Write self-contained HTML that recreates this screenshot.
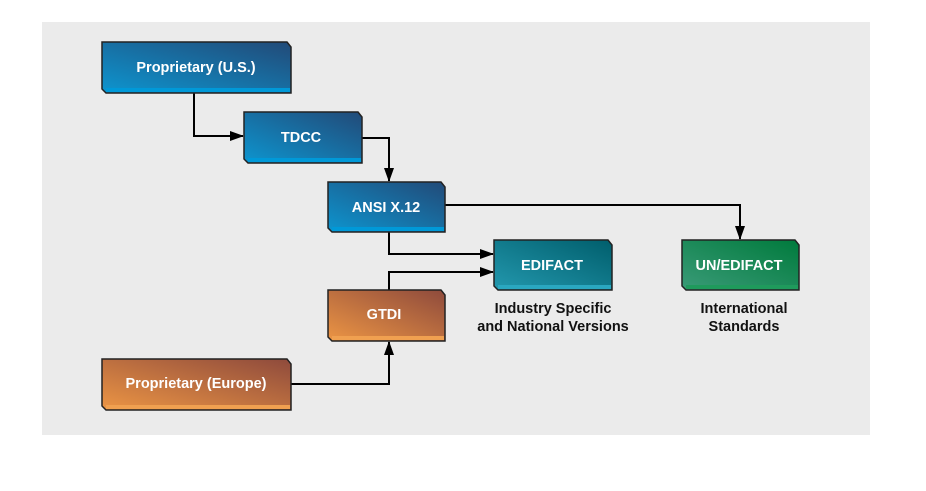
<!DOCTYPE html>
<html><head><style>
body{margin:0;background:#fff;width:926px;height:486px;overflow:hidden}
text{font-family:"Liberation Sans",sans-serif;font-weight:bold;font-size:14.5px}
</style></head><body>
<svg width="926" height="486" viewBox="0 0 926 486" xmlns="http://www.w3.org/2000/svg">
<defs>
<linearGradient id="b" x1="0" y1="1" x2="1" y2="0"><stop offset="0" stop-color="#0d95cf"/><stop offset="1" stop-color="#224a78"/></linearGradient>
<linearGradient id="o" x1="0" y1="1" x2="1" y2="0"><stop offset="0" stop-color="#ec9544"/><stop offset="1" stop-color="#8e4a3c"/></linearGradient>
<linearGradient id="t" x1="0" y1="1" x2="1" y2="0"><stop offset="0" stop-color="#2398ae"/><stop offset="1" stop-color="#005e6c"/></linearGradient>
<linearGradient id="g" x1="0" y1="1" x2="1" y2="0"><stop offset="0" stop-color="#3a9b78"/><stop offset="1" stop-color="#007a3c"/></linearGradient>
<marker id="a" markerWidth="14" markerHeight="10" refX="13" refY="5" orient="auto" markerUnits="userSpaceOnUse"><path d="M0,0 L14,5 L0,10 z" fill="#000"/></marker>
</defs>
<rect x="42" y="22" width="828" height="413" fill="#ebebeb"/>
<g stroke="#000" stroke-width="2" fill="none">
<polyline points="194,93 194,136 243,136" marker-end="url(#a)"/>
<polyline points="362,138 389,138 389,181" marker-end="url(#a)"/>
<polyline points="445,205 740,205 740,239" marker-end="url(#a)"/>
<polyline points="389,232 389,254 493,254" marker-end="url(#a)"/>
<polyline points="389,290 389,272 493,272" marker-end="url(#a)"/>
<polyline points="291,384 389,384 389,342" marker-end="url(#a)"/>
</g>
<g stroke="#222" stroke-width="1.5">
<path d="M102,42 H287 L291,47 V93 H106 L102,89 Z" fill="url(#b)"/><rect x="106" y="88" width="184" height="4" fill="#0099d8" stroke="none"/>
<path d="M244,112 H358 L362,117 V163 H248 L244,159 Z" fill="url(#b)"/><rect x="248" y="158" width="113" height="4" fill="#0099d8" stroke="none"/>
<path d="M328,182 H441 L445,187 V232 H332 L328,228 Z" fill="url(#b)"/><rect x="332" y="227" width="112" height="4" fill="#0099d8" stroke="none"/>
<path d="M494,240 H608 L612,245 V290 H498 L494,286 Z" fill="url(#t)"/><rect x="498" y="285" width="113" height="4" fill="#2aa7c0" stroke="none"/>
<path d="M682,240 H795 L799,245 V290 H686 L682,286 Z" fill="url(#g)"/><rect x="686" y="285" width="112" height="4" fill="#1f9a5c" stroke="none"/>
<path d="M328,290 H441 L445,295 V341 H332 L328,337 Z" fill="url(#o)"/><rect x="332" y="336" width="112" height="4" fill="#f0a050" stroke="none"/>
<path d="M102,359 H287 L291,364 V410 H106 L102,406 Z" fill="url(#o)"/><rect x="106" y="405" width="184" height="4" fill="#f0a050" stroke="none"/>
</g>
<g fill="#fff" text-anchor="middle">
<text x="196" y="72">Proprietary (U.S.)</text>
<text x="301" y="142">TDCC</text>
<text x="386" y="212">ANSI X.12</text>
<text x="552" y="270">EDIFACT</text>
<text x="739" y="270">UN/EDIFACT</text>
<text x="384" y="319">GTDI</text>
<text x="196" y="388">Proprietary (Europe)</text>
</g>
<g fill="#111" text-anchor="middle" style="font-size:14px">
<text x="553" y="313">Industry Specific</text>
<text x="553" y="331">and National Versions</text>
<text x="744" y="313">International</text>
<text x="744" y="331">Standards</text>
</g>
</svg>
</body></html>
